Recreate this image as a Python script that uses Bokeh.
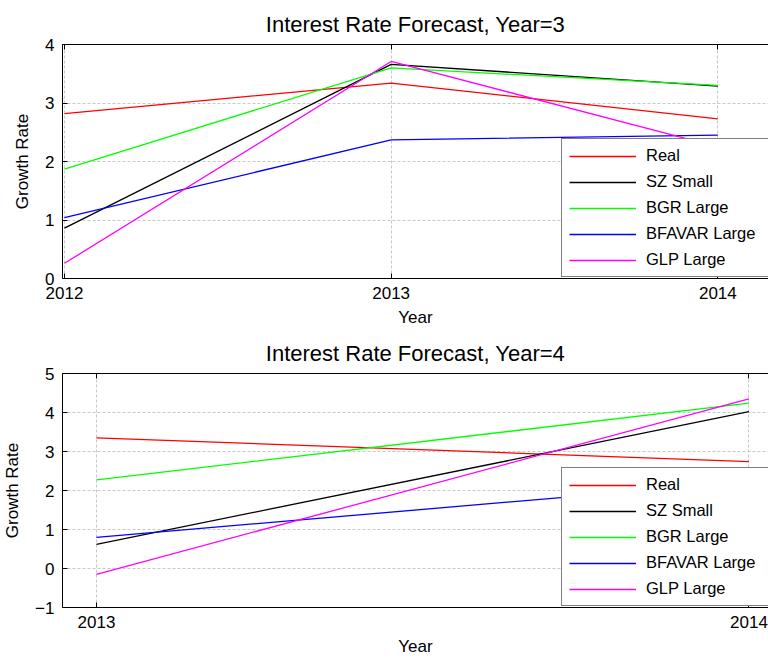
from bokeh.plotting import figure
from bokeh.models import Range1d, FixedTicker, LinearAxis, Legend, LegendItem
from bokeh.layouts import column
from bokeh.embed import file_html
from bokeh.resources import INLINE

FONT = "Liberation Sans"

models = ["Real", "SZ Small", "BGR Large", "BFAVAR Large", "GLP Large"]
colors = ["#ff0000", "#000000", "#00ff00", "#0000ff", "#ff00ff"]

# Forecast horizon 3 years
years_h3 = [2012, 2013, 2014]
real_h3 = [2.82, 3.34, 2.73]
sz_small_h3 = [0.86, 3.66, 3.29]
bgr_large_h3 = [1.87, 3.60, 3.30]
bfavar_large_h3 = [1.04, 2.37, 2.45]
glp_large_h3 = [0.26, 3.71, 2.25]
yticks_h3 = [0, 1, 2, 3, 4]

# Forecast horizon 4 years
years_h4 = [2013, 2014]
real_h4 = [3.35, 2.74]
sz_small_h4 = [0.62, 4.02]
bgr_large_h4 = [2.27, 4.24]
bfavar_large_h4 = [0.80, 2.23]
glp_large_h4 = [-0.15, 4.35]
yticks_h4 = [-1, 0, 1, 2, 3, 4, 5]


def make_panel(title, years, series, xr, yr, yticks, left_border):
    p = figure(width=768, height=329, output_backend="svg", toolbar_location=None,
               x_range=Range1d(*xr), y_range=Range1d(*yr),
               min_border_left=left_border, min_border_right=0,
               min_border_top=44, min_border_bottom=51,
               outline_line_color=None)
    p.title.text = title
    p.title.align = "center"
    p.title.text_font = FONT
    p.title.text_font_size = "22px"
    p.title.text_font_style = "normal"
    p.title.text_color = "#000000"
    p.title.standoff = 15

    for ax in (p.xaxis[0], p.yaxis[0]):
        ax.axis_line_color = "#000000"
        ax.axis_line_width = 1
        ax.major_tick_in = 5
        ax.major_tick_out = 0
        ax.minor_tick_line_color = None
        ax.major_label_text_font = FONT
        ax.major_label_text_font_size = "17px"
        ax.major_label_text_color = "#000000"
        ax.axis_label_text_font = FONT
        ax.axis_label_text_font_size = "17px"
        ax.axis_label_text_font_style = "normal"
        ax.axis_label_text_color = "#000000"
    p.xaxis.ticker = FixedTicker(ticks=years)
    p.yaxis.ticker = FixedTicker(ticks=yticks)
    p.xaxis.axis_label = "Year"
    p.yaxis.axis_label = "Growth Rate"
    p.xaxis.major_label_standoff = 8
    p.xaxis.axis_label_standoff = 6
    p.yaxis.major_label_standoff = 8
    p.yaxis.axis_label_standoff = 10

    # top spine with inward ticks, labels not drawn
    top = LinearAxis(ticker=FixedTicker(ticks=years), major_tick_in=5, major_tick_out=0,
                     minor_tick_line_color=None, major_label_text_font_size="1px",
                     major_label_text_color=None,
                     major_label_standoff=0, axis_line_color="#000000")
    p.add_layout(top, "above")

    for g in (p.xgrid[0], p.ygrid[0]):
        g.grid_line_color = "#c8c8c8"
        g.grid_line_dash = "3 2"
        g.grid_line_width = 1
    p.xgrid.ticker = FixedTicker(ticks=years)
    p.ygrid.ticker = FixedTicker(ticks=yticks)

    items = []
    for name, col, vals in zip(models, colors, series):
        r = p.line(years, vals, line_color=col, line_width=1.3)
        items.append(LegendItem(label=name, renderers=[r]))

    legend = Legend(items=items, location=(499, 1),
                    border_line_color="#000000", border_line_width=1,
                    background_fill_color="#ffffff", background_fill_alpha=1,
                    label_text_font=FONT, label_text_font_size="16.5px",
                    label_text_color="#000000",
                    glyph_width=67, glyph_height=18, label_height=18,
                    label_width=130,
                    label_standoff=10, spacing=7, padding=7, margin=0)
    p.add_layout(legend)
    return p


p1 = make_panel("Interest Rate Forecast, Year=3", years_h3,
                [real_h3, sz_small_h3, bgr_large_h3, bfavar_large_h3, glp_large_h3],
                (2011.994, 2014.155), (0, 4), yticks_h3, 59)
p2 = make_panel("Interest Rate Forecast, Year=4", years_h4,
                [real_h4, sz_small_h4, bgr_large_h4, bfavar_large_h4, glp_large_h4],
                (2012.948, 2014.030), (-1, 5), yticks_h4, 58)

layout = column(p1, p2, spacing=0)
open("out.html", "w").write(file_html(layout, INLINE))
